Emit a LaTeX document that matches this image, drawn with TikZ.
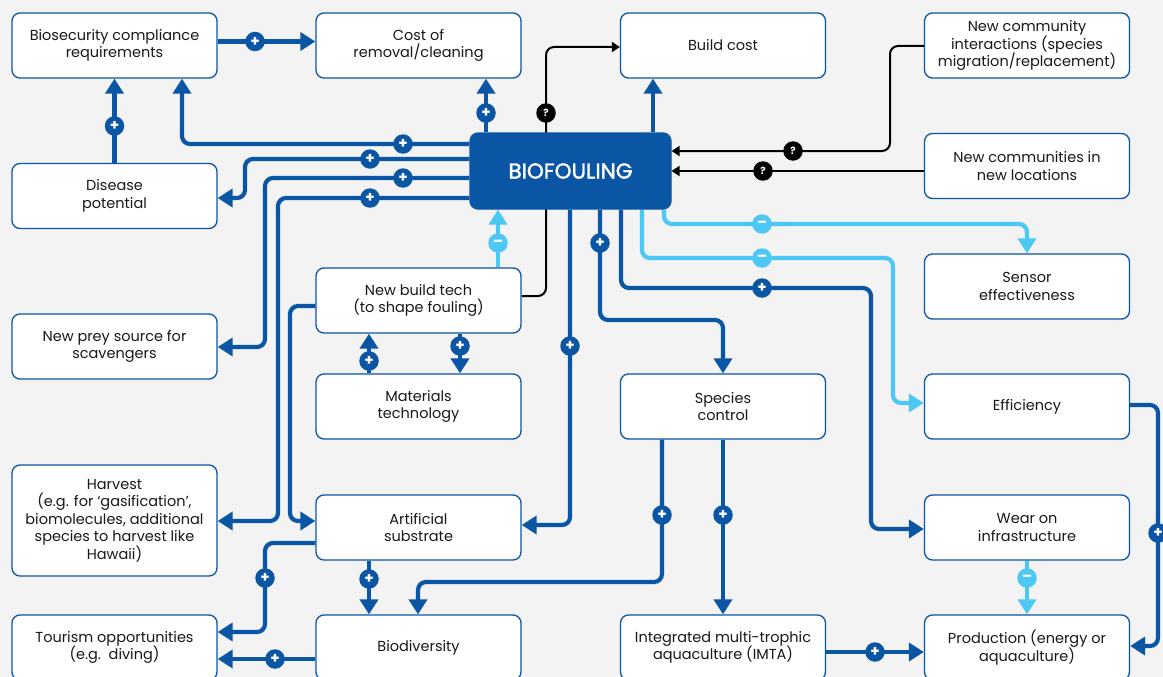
\documentclass[tikz,border=0pt]{standalone}
\usepackage{fontspec}
\setmainfont{Poppins}
\newfontfamily\biofont{Poppins}[FakeBold=1.8]
\usetikzlibrary{arrows.meta}
\definecolor{dblue}{RGB}{11,85,165}
\definecolor{lblue}{RGB}{77,200,245}
\definecolor{bgc}{RGB}{243,243,243}
\definecolor{txt}{RGB}{25,25,25}
\pgfdeclarelayer{back}
\pgfdeclarelayer{bg}
\pgfsetlayers{back,bg,main}
\tikzset{
 box/.style={draw=dblue, line width=1.3pt, fill=white, rounded corners=8pt, minimum width=205pt, minimum height=65pt, align=center, inner sep=0pt, font=\fontsize{14.5}{17.5}\selectfont, text=txt},
 conn/.style={draw=dblue, line width=4.2pt, rounded corners=8pt, -{Triangle[length=15pt,width=18pt]}},
 lconn/.style={conn, draw=lblue},
 qconn/.style={draw=black, line width=2pt, rounded corners=8pt, -{Triangle[length=8pt,width=10pt]}},
 sgn/.style={circle, fill=dblue, minimum size=19.5pt, inner sep=0pt, text=white, font=\fontsize{15}{15}\selectfont\bfseries},
 lsgn/.style={sgn, fill=lblue},
 qsgn/.style={sgn, fill=black, font=\fontsize{10}{10}\selectfont\bfseries},
}
\begin{document}
\begin{tikzpicture}[x=1pt,y=-1pt]
\begin{pgfonlayer}{back}
\fill[bgc] (0,0) rectangle (1163,677);
\end{pgfonlayer}
\useasboundingbox (0,0) rectangle (1163,677);
% nodes
\node[box] (bio) at (114.5,45.5) {Biosecurity compliance\\requirements};
\node[box] (cost) at (418.5,45.5) {Cost of\\removal/cleaning};
\node[box] (build) at (723,45.5) {Build cost};
\node[box] (nci) at (1027,45.5) {New community\\interactions (species\\migration/replacement)};
\node[box] (disease) at (114.5,196) {Disease\\potential};
\node[box, fill=dblue, minimum width=201pt, minimum height=76pt, text=white, font=\fontsize{21.5}{23}\biofont] (biof) at (570.5,171) {BIOFOULING};
\node[box] (ncl) at (1027,166) {New communities in\\new locations};
\node[box] (sensor) at (1027,286.5) {Sensor\\effectiveness};
\node[box] (prey) at (114.5,346.5) {New prey source for\\scavengers};
\node[box] (nbt) at (418.5,300.5) {New build tech\\(to shape fouling)};
\node[box] (mat) at (418.5,406.5) {Materials\\technology};
\node[box] (spc) at (723,406.5) {Species\\control};
\node[box] (eff) at (1027,406.5) {Efficiency};
\node[box, minimum height=111pt] (harv) at (114.5,520.5) {Harvest\\(e.g. for ‘gasification’,\\biomolecules, additional\\species to harvest like\\Hawaii)};
\node[box] (art) at (418.5,527.5) {Artificial\\substrate};
\node[box] (wear) at (1027,527.5) {Wear on\\infrastructure};
\node[box] (tour) at (114.5,647.5) {Tourism opportunities\\(e.g.\ \ diving)};
\node[box] (biod) at (418.5,647.5) {Biodiversity};
\node[box] (imta) at (723,647.5) {Integrated multi-trophic\\aquaculture (IMTA)};
\node[box] (prod) at (1027,647.5) {Production (energy or\\aquaculture)};
% connectors
\begin{pgfonlayer}{bg}
\draw[conn] (bio.east |- 0,41.5) -- (cost.west |- 0,41.5);
\draw[conn] (disease.north) -- (bio.south);
\draw[conn] (biof.west |- 0,144) -| (bio.south -| 182,0);
\draw[conn] (biof.west |- 0,159) -- (245,159) |- (disease.east |- 0,198);
\draw[conn] (biof.west |- 0,178) -- (265,178) |- (prey.east |- 0,347);
\draw[conn] (biof.west |- 0,198) -- (278,198) |- (harv.east |- 0,521);
\draw[conn] (nbt.west |- 0,306) -- (290,306) |- (art.west |- 0,521);
\draw[conn] (biof.north -| 486,0) -- (cost.south -| 486,0);
\draw[qconn] (nbt.east |- 0,296) -- (546,296) |- (build.west |- 0,47);
\draw[conn] (biof.north -| 653,0) -- (build.south -| 653,0);
\draw[qconn] (nci.west |- 0,46) -- (890,46) |- (biof.east |- 0,151);
\draw[qconn] (ncl.west |- 0,171) -- (biof.east |- 0,171);
\draw[lconn] (biof.south -| 664,0) |- (1027,224) -- (sensor.north);
\draw[lconn] (biof.south -| 642,0) |- (893,258) |- (eff.west |- 0,403);
\draw[conn] (biof.south -| 621,0) |- (871,288) |- (wear.west |- 0,529);
\draw[conn] (biof.south -| 600,0) |- (723,320) -- (spc.north);
\draw[conn] (biof.south -| 570,0) |- (art.east |- 0,525);
\draw[lconn] (nbt.north -| 498,0) -- (biof.south -| 498,0);
\draw[conn] (mat.north -| 369,0) -- (nbt.south -| 369,0);
\draw[conn] (nbt.south -| 460,0) -- (mat.north -| 460,0);
\draw[conn] (art.west |- 0,543) -- (265,543) |- (tour.east |- 0,632);
\draw[conn] (art.south -| 369,0) -- (biod.north -| 369,0);
\draw[conn] (biod.west |- 0,659) -- (tour.east |- 0,659);
\draw[conn] (spc.south -| 662,0) |- (418,582) -- (biod.north -| 418,0);
\draw[conn] (spc.south) -- (imta.north);
\draw[conn] (imta.east |- 0,652) -- (prod.west |- 0,652);
\draw[lconn] (wear.south) -- (prod.north);
\draw[conn] (eff.east |- 0,405) -- (1158,405) |- (prod.east |- 0,646);
\end{pgfonlayer}
% signs
\node[sgn] (s1) at (255,41.5) {+};
\node[sgn] (s2) at (114.5,126) {+};
\node[sgn] (s3) at (403,144) {+};
\node[sgn] (s4) at (370,159) {+};
\node[sgn] (s5) at (403,178) {+};
\node[sgn] (s6) at (370,198) {+};
\node[sgn] (s7) at (486,113) {+};
\node[qsgn] (q1) at (546,113) {?};
\node[qsgn] (q2) at (793,151) {?};
\node[qsgn] (q3) at (763,171) {?};
\node[lsgn] (m1) at (762,224) {–};
\node[lsgn] (m2) at (762,258) {–};
\node[sgn] (s8) at (762,288) {+};
\node[sgn] (s9) at (600,243) {+};
\node[sgn] (s10) at (570,346) {+};
\node[lsgn] (m3) at (498,243) {–};
\node[sgn] (s11) at (369,361) {+};
\node[sgn] (s12) at (460,346) {+};
\node[sgn] (s13) at (265,578) {+};
\node[sgn] (s14) at (369,579) {+};
\node[sgn] (s15) at (275,659) {+};
\node[sgn] (s16) at (662,515) {+};
\node[sgn] (s17) at (723,515) {+};
\node[sgn] (s18) at (875,652) {+};
\node[lsgn] (m4) at (1027,578) {–};
\node[sgn] (s19) at (1158,533) {+};
\end{tikzpicture}
\end{document}
